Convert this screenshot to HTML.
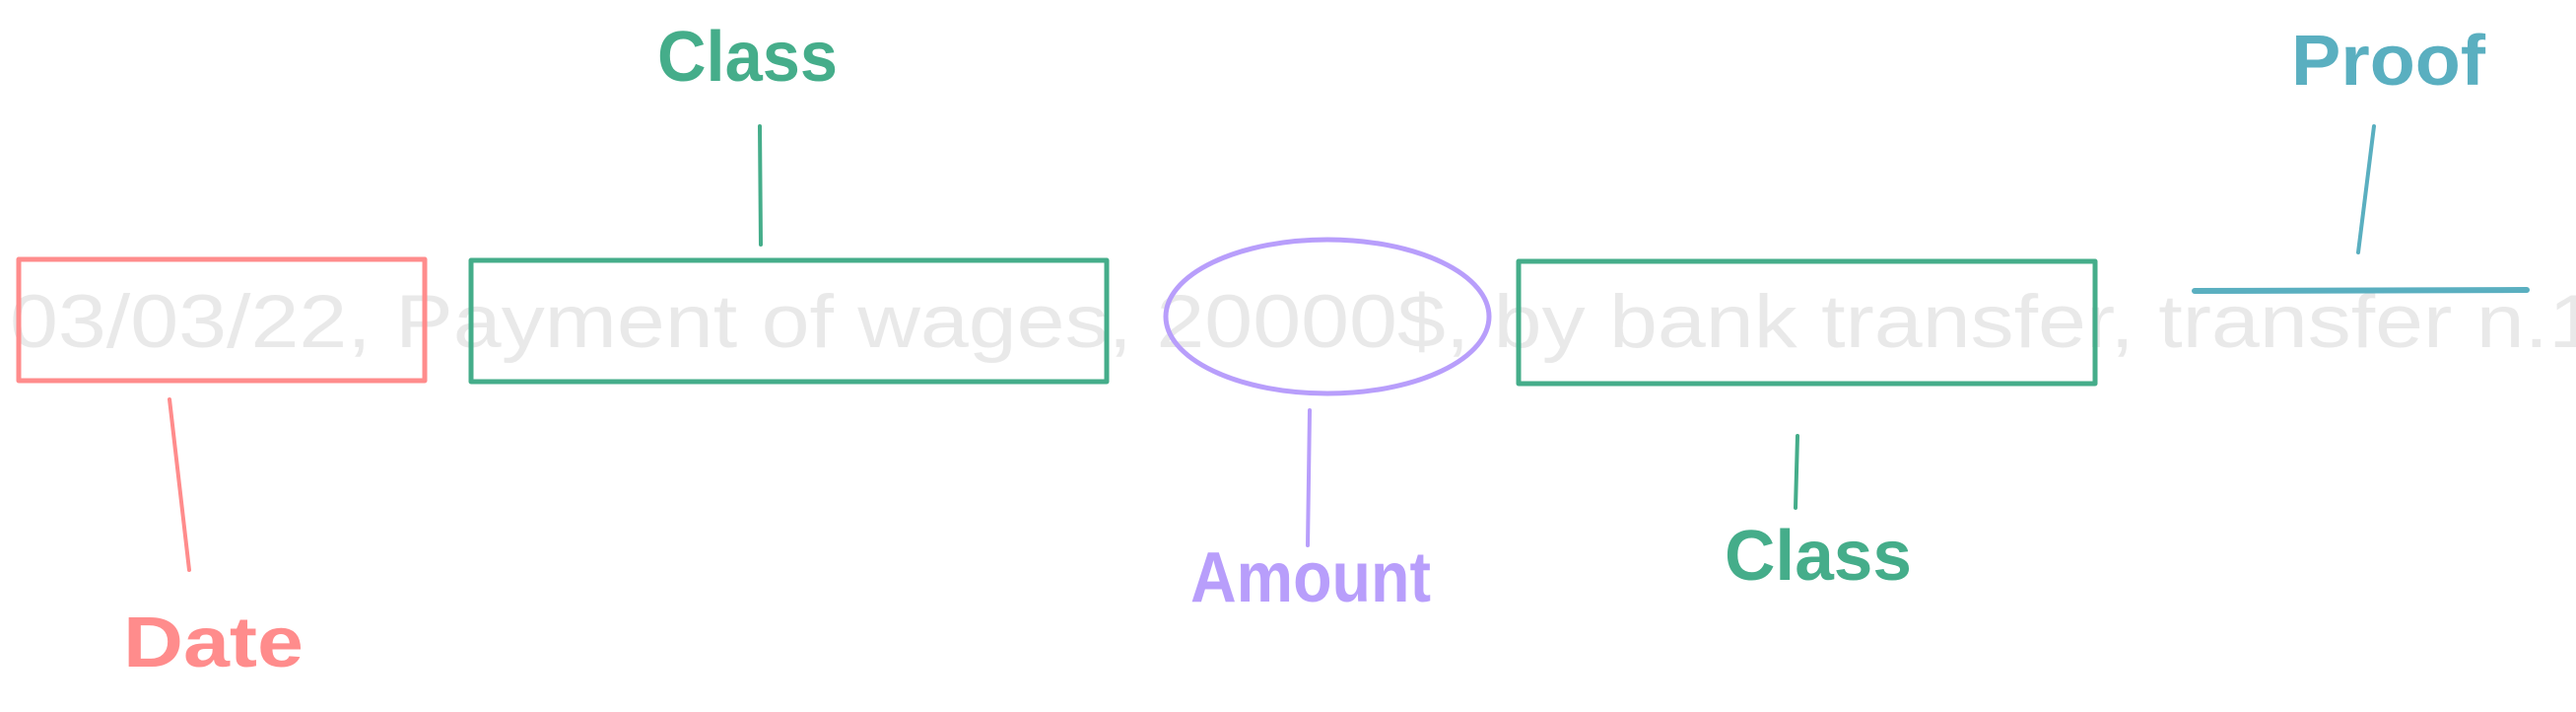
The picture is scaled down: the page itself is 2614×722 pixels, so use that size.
<!DOCTYPE html>
<html><head><meta charset="utf-8"><style>html,body{margin:0;padding:0;background:#fff;}svg{display:block}</style></head>
<body>
<svg width="2614" height="722" viewBox="0 0 2614 722" xmlns="http://www.w3.org/2000/svg" font-family="'Liberation Sans', sans-serif">
<text x="10" y="352" font-size="76" fill="#e9e9e9" textLength="2625" lengthAdjust="spacingAndGlyphs">03/03/22, Payment of wages, 20000$, by bank transfer, transfer n.1</text>
<g fill="none" stroke-linecap="round" stroke-linejoin="round">
<rect x="19" y="263" width="412" height="123" stroke="#ff8c8c" stroke-width="5"/>
<rect x="478" y="264" width="645" height="123" stroke="#45ad8a" stroke-width="5"/>
<ellipse cx="1347" cy="321" rx="164" ry="78" stroke="#b89efb" stroke-width="5"/>
<rect x="1541" y="265" width="585" height="124" stroke="#45ad8a" stroke-width="5"/>
<line x1="2227" y1="295" x2="2564" y2="294" stroke="#5aafc0" stroke-width="6"/>
<line x1="771" y1="128" x2="772" y2="248" stroke="#45ad8a" stroke-width="4"/>
<line x1="172" y1="405" x2="192" y2="578" stroke="#ff8c8c" stroke-width="4"/>
<line x1="1329" y1="416" x2="1327" y2="553" stroke="#b89efb" stroke-width="4"/>
<line x1="1824" y1="442" x2="1822" y2="515" stroke="#45ad8a" stroke-width="4"/>
<line x1="2409" y1="128" x2="2393" y2="256" stroke="#5aafc0" stroke-width="4"/>
</g>
<g font-size="72" font-weight="bold">
<text x="667" y="82" fill="#45ad8a" textLength="183" lengthAdjust="spacingAndGlyphs">Class</text>
<text x="1750" y="588" fill="#45ad8a" textLength="190" lengthAdjust="spacingAndGlyphs">Class</text>
<text x="125" y="676" fill="#ff8c8c" textLength="183" lengthAdjust="spacingAndGlyphs">Date</text>
<text x="1208" y="610" fill="#b89efb" textLength="244" lengthAdjust="spacingAndGlyphs">Amount</text>
<text x="2325" y="86" fill="#5aafc0" textLength="197" lengthAdjust="spacingAndGlyphs">Proof</text>
</g>
</svg>
</body></html>
